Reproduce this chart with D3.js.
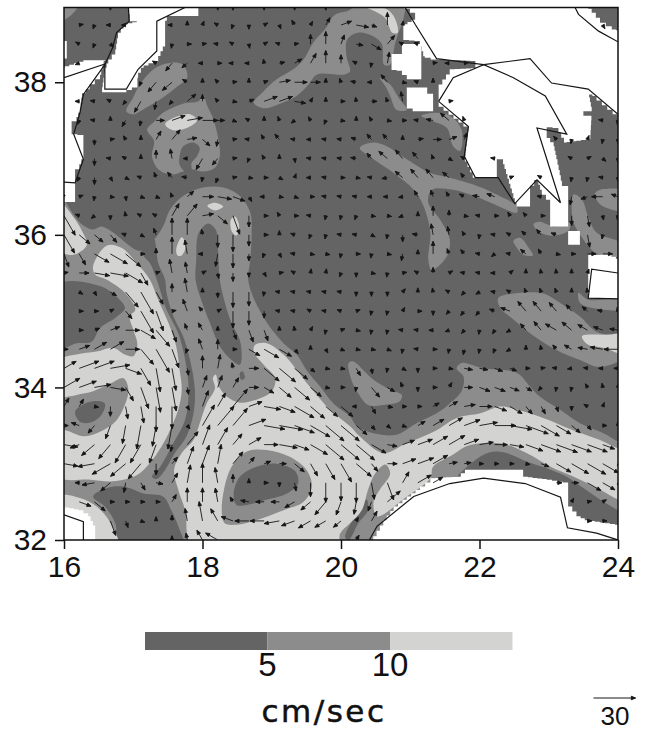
<!DOCTYPE html>
<html>
<head>
<meta charset="utf-8">
<script src="https://cdnjs.cloudflare.com/ajax/libs/d3/7.8.5/d3.min.js"></script>
<style>
body { margin: 0; background: #fff; }
svg text { font-family: "Liberation Sans", sans-serif; fill: #111; }
</style>
</head>
<body>
<script>
'use strict';
// tick labels, legend
const lonTicks = [16, 18, 20, 22, 24];
const latTicks = [32, 34, 36, 38];
const legendBreaks = [5, 10];
const legendRange = [0, 5, 10, 15];
const refVector = 30;

// arrow grid: 37 columns (2/9 deg apart) by 29 rows (1/4 deg apart), north to south
const arrowLats = [39, 38.75, 38.5, 38.25, 38, 37.75, 37.5, 37.25, 37, 36.75, 36.5, 36.25, 36, 35.75, 35.5, 35.25, 35, 34.75, 34.5, 34.25, 34, 33.75, 33.5, 33.25, 33, 32.75, 32.5, 32.25, 32];
const arrowLons = [16, 16.22, 16.44, 16.67, 16.89, 17.11, 17.33, 17.56, 17.78, 18, 18.22, 18.44, 18.67, 18.89, 19.11, 19.33, 19.56, 19.78, 20, 20.22, 20.44, 20.67, 20.89, 21.11, 21.33, 21.56, 21.78, 22, 22.22, 22.44, 22.67, 22.89, 23.11, 23.33, 23.56, 23.78, 24];

// speed in cm/sec, 0 where there is no arrow
const arrowSpeed = [
[0,0,0,3,0,0,0,0,0,0,3,3,0,3,0,3,0,3,0,0,0,0,0,0,0,0,0,0,0,0,0,0,0,0,0,0,0],
[0,3,3,3,3,0,0,3,3,3,3,3,3,3,3,4,3,6,8,9,4,9,3,0,0,0,0,0,0,0,0,0,0,0,0,3,0],
[0,3,3,3,0,0,0,3,3,3,3,3,3,3,3,3,7,9,7,5,8,8,3,3,0,0,0,0,0,0,0,0,0,0,0,0,0],
[0,3,0,0,0,0,3,7,5,3,3,3,3,3,4,6,8,9,6,3,3,8,0,0,3,3,3,0,0,0,0,0,0,0,0,0,0],
[0,0,0,0,0,3,9,9,4,3,3,3,3,3,8,9,7,3,3,4,3,7,3,3,3,0,0,0,0,0,0,0,0,0,0,0,0],
[0,3,3,3,3,9,6,3,8,5,3,3,4,10,10,8,3,3,3,3,4,3,7,0,0,3,0,0,0,0,0,0,0,0,0,0,0],
[0,3,3,3,5,4,6,10,11,11,5,3,3,3,3,3,3,3,3,3,3,3,3,3,5,8,3,0,0,0,0,0,0,0,0,3,3],
[0,0,4,3,3,3,7,9,7,7,5,3,3,4,5,3,3,3,3,4,5,5,3,4,6,6,5,0,0,0,0,0,3,3,3,3,3],
[0,0,5,3,3,3,6,7,3,9,6,3,3,3,3,3,3,3,3,4,5,8,8,6,3,3,3,0,3,0,0,0,0,3,3,3,3],
[0,3,5,3,3,3,4,5,4,3,4,3,3,3,3,3,3,3,3,3,3,4,7,8,8,6,4,0,0,3,0,3,0,3,3,3,3],
[3,3,3,3,3,3,3,3,6,8,10,9,4,3,3,3,3,3,3,3,3,3,3,5,5,4,4,5,6,0,0,3,0,6,5,8,5],
[16,3,3,3,3,3,3,10,11,8,9,14,8,3,3,3,3,3,3,3,3,3,3,3,7,4,3,3,3,3,3,3,0,7,8,3,3],
[15,10,8,7,3,3,5,12,12,4,9,12,8,3,3,3,3,3,3,3,3,3,5,4,8,6,3,3,3,3,4,5,4,0,9,3,0],
[10,9,12,14,14,3,4,12,10,3,9,10,5,3,3,3,3,3,3,3,3,3,5,3,9,4,4,3,3,3,5,4,3,3,6,7,0],
[3,7,11,13,14,10,3,10,8,3,4,6,3,3,3,3,3,3,3,3,3,3,3,3,4,3,3,3,3,3,3,3,3,3,3,0,0],
[0,3,3,5,14,18,10,6,10,3,4,11,10,3,3,3,3,3,3,3,3,3,3,3,3,3,3,3,3,3,3,3,3,3,3,0,0],
[0,3,3,3,7,18,15,3,9,4,3,12,10,5,3,3,3,3,3,3,3,3,3,3,3,3,4,4,4,7,9,9,8,6,5,4,3],
[0,3,4,7,10,12,15,9,5,6,3,7,9,8,3,3,3,3,3,3,3,3,3,3,3,3,3,3,3,3,6,8,9,9,8,7,6],
[3,8,10,11,10,14,19,14,3,8,7,3,9,12,10,4,3,3,3,3,3,3,3,3,3,3,4,3,3,3,3,3,4,6,7,9,10],
[10,15,15,14,12,14,17,16,5,9,10,4,7,14,15,12,4,3,3,6,4,3,3,3,3,3,6,6,6,5,3,3,3,3,3,3,3],
[13,13,12,11,11,16,18,17,5,9,9,8,7,8,11,14,10,3,3,3,9,6,4,3,3,4,6,8,8,7,5,3,3,3,3,3,3],
[7,6,3,7,9,12,18,16,3,12,11,16,10,12,12,16,13,11,11,3,6,4,3,3,5,7,8,9,9,10,7,6,4,3,3,3,0],
[3,6,7,10,13,17,15,17,3,17,18,16,13,15,17,15,16,17,17,10,4,3,3,6,9,11,12,13,15,16,17,15,12,8,4,3,3],
[10,7,12,13,15,15,14,5,12,15,14,10,10,10,13,11,14,17,17,17,12,7,9,11,12,13,11,10,9,10,13,15,16,15,15,9,3],
[10,0,12,15,14,14,8,6,13,14,14,11,6,5,5,9,10,13,15,14,7,7,10,12,12,6,5,3,3,3,3,6,12,14,15,13,3],
[6,3,9,9,7,6,5,8,13,14,11,6,3,3,3,6,10,14,13,14,12,13,9,11,8,0,0,0,0,0,0,0,4,5,11,10,3],
[0,9,10,3,3,3,3,6,10,10,10,4,6,6,6,8,9,12,10,9,7,12,0,0,0,0,0,0,0,0,0,0,0,3,3,3,0],
[0,0,0,11,5,3,3,4,9,14,10,9,10,10,11,10,10,9,7,3,8,0,0,0,0,0,0,0,0,0,0,0,0,0,3,3,0],
[0,0,0,0,0,0,0,3,5,8,10,0,0,0,0,0,0,0,0,4,0,0,0,0,0,0,0,0,0,0,0,0,0,0,0,0,0]
];
// direction the arrow points, in tens of degrees clockwise from north
const arrowDir = [
[0,0,0,18,0,0,0,0,0,0,18,18,0,18,0,18,0,18,0,0,0,0,0,0,0,0,0,0,0,0,0,0,0,0,0,0,0],
[0,8,20,27,27,0,0,27,0,2,30,20,18,6,16,33,3,3,7,10,11,0,1,0,0,0,0,0,0,0,0,0,0,0,0,15,0],
[0,30,20,13,0,0,0,19,9,8,28,30,17,6,29,8,0,0,2,10,12,4,30,29,0,0,0,0,0,0,0,0,0,0,0,0,0],
[0,25,0,0,0,0,30,22,23,27,9,27,27,35,8,6,3,0,0,30,19,1,0,0,8,27,8,0,0,0,0,0,0,0,0,0,0],
[0,0,0,0,0,20,22,23,30,0,32,8,0,7,8,9,9,0,34,28,27,32,10,29,0,0,0,0,0,0,0,0,0,0,0,0,0],
[0,27,28,30,22,21,19,22,5,0,32,10,7,7,7,10,3,0,9,35,9,34,35,0,0,8,0,0,0,0,0,0,0,0,0,0,0],
[0,20,28,0,21,19,9,7,8,9,9,11,30,0,34,23,33,20,10,0,33,10,9,28,28,31,34,0,0,0,0,0,0,0,0,28,19],
[0,0,18,8,33,0,3,4,8,13,19,8,28,33,32,28,27,28,28,29,32,32,0,8,9,7,2,0,0,0,0,0,32,19,2,19,18],
[0,0,18,28,30,0,0,35,27,21,22,8,20,33,0,17,28,28,28,28,32,31,32,32,34,12,30,0,28,0,0,0,0,30,6,13,18],
[0,21,18,15,12,29,34,32,28,19,20,8,10,9,12,2,27,28,9,10,28,26,31,32,32,31,32,0,0,7,0,30,0,19,19,28,18],
[32,7,19,10,17,11,11,34,5,9,10,11,15,27,10,11,9,28,28,28,27,27,26,33,34,33,30,28,29,0,0,28,0,19,25,27,29],
[15,29,23,18,35,30,30,3,4,8,13,16,18,9,33,9,28,19,19,20,10,10,25,0,0,0,10,28,9,33,32,9,0,18,17,17,19],
[15,13,13,14,29,12,34,0,0,35,18,18,18,9,0,29,20,19,28,28,12,19,18,28,35,35,33,19,28,30,31,32,29,0,17,19,0],
[16,15,12,12,13,9,0,0,35,27,19,18,18,20,15,28,10,10,19,9,19,10,19,0,0,34,32,28,23,28,31,33,10,9,9,9,0],
[8,9,10,10,12,15,7,35,35,6,17,18,18,15,8,30,1,1,20,18,10,19,8,30,0,6,28,28,27,5,0,35,35,0,2,0,0],
[0,12,15,12,14,15,15,0,35,0,18,18,18,19,28,28,28,28,28,18,18,18,4,0,35,30,22,24,28,30,34,34,34,0,35,0,0],
[0,9,9,6,14,15,16,8,34,32,6,18,18,18,28,28,30,28,29,7,19,19,3,9,18,22,22,22,29,29,32,32,32,32,31,28,35],
[0,9,7,7,9,12,14,16,34,33,0,16,16,16,0,35,3,19,7,10,19,19,28,28,27,25,22,19,21,24,32,32,30,31,30,29,28],
[9,7,6,6,9,14,15,16,20,34,0,9,12,12,12,14,0,15,11,10,10,11,19,28,9,19,19,19,20,24,0,35,32,30,28,28,27],
[6,7,7,8,11,15,17,17,17,0,1,35,9,13,13,13,13,10,10,15,17,19,12,18,9,10,10,10,11,11,9,8,28,26,28,27,27],
[6,7,8,10,15,16,17,17,17,2,2,3,9,12,13,13,13,10,9,19,14,12,34,18,9,3,9,11,11,11,12,22,19,19,33,35,1],
[3,3,10,18,17,17,18,18,15,2,3,4,7,10,11,12,13,13,13,27,15,10,9,9,6,6,8,9,11,12,14,15,16,18,30,2,0],
[9,29,22,20,19,19,19,19,14,3,4,4,7,10,10,11,12,13,13,13,14,13,11,6,6,6,7,8,9,10,11,12,12,13,14,9,0],
[10,25,23,22,21,21,20,19,4,2,3,4,6,9,10,11,12,13,13,13,12,10,7,7,6,6,7,8,9,10,11,11,11,11,11,11,9],
[10,0,26,24,23,22,18,4,2,2,1,4,4,7,9,13,15,15,15,13,14,9,7,7,6,8,8,9,9,9,10,11,12,12,12,12,12],
[28,27,26,23,19,15,10,3,1,0,35,0,0,9,18,17,18,18,18,18,17,16,3,6,6,0,0,0,0,0,0,0,9,9,12,12,12],
[0,11,13,9,9,9,9,3,0,0,35,33,28,27,27,24,23,22,20,19,20,5,0,0,0,0,0,0,0,0,0,0,0,3,8,6,0],
[0,0,0,16,16,11,0,0,35,35,33,29,27,27,26,25,24,24,23,3,3,0,0,0,0,0,0,0,0,0,0,0,0,0,9,9,0],
[0,0,0,0,0,0,0,0,35,33,30,0,0,0,0,0,0,0,0,3,0,0,0,0,0,0,0,0,0,0,0,0,0,0,0,0,0]
];

// speed zones traced as [lon, lat] rings
const zonesOver5 = [
    // south-west basin, the arch and the jet along the Libyan coast
    [[16,36.46],[16.09,36.33],[16.23,36.16],[16.42,36.07],[16.54,36.11],[16.71,36.03],[16.9,35.89],[17.1,35.79],[17.3,35.94],[17.43,36.11],[17.53,36.33],[17.72,36.51],[18.01,36.62],[18.3,36.62],[18.54,36.51],[18.69,36.29],[18.71,36.03],[18.69,35.68],[18.66,35.41],[18.73,35.19],[18.85,34.97],[19,34.76],[19.17,34.58],[19.36,34.43],[19.5,34.23],[19.7,34.01],[19.89,33.79],[20.13,33.62],[20.23,33.49],[20.47,33.4],[20.8,33.38],[21.09,33.53],[21.38,33.66],[21.57,33.79],[21.74,33.95],[21.77,34.14],[21.67,34.25],[21.74,34.32],[22.06,34.25],[22.54,34.19],[22.73,34.01],[22.87,33.88],[23.16,33.71],[23.45,33.53],[23.79,33.4],[24,33.29],[24.2,33.2],[24.2,32.3],[24,32.39],[23.74,32.53],[23.5,32.68],[23.26,32.83],[22.97,32.94],[22.68,33.03],[22.39,33.14],[22.15,33.15],[21.91,33.03],[21.77,32.92],[21.43,32.61],[20.42,31.9],[18,31.8],[15.8,31.8],[15.7,34],[15.8,36.6]],
    [[18.74,37.73],[18.88,37.88],[19.07,38.04],[19.31,38.17],[19.46,38.3],[19.6,38.52],[19.79,38.72],[19.89,38.87],[20.03,38.92],[20.09,38.93],[20.16,38.97],[20.23,39.05],[20.9,39.05],[20.9,38.82],[20.83,38.65],[20.78,38.5],[20.71,38.23],[20.62,38.23],[20.59,38.5],[20.47,38.6],[20.25,38.65],[20.09,38.56],[20.08,38.34],[20.13,38.14],[20.04,38.1],[19.94,38.1],[19.65,38.1],[19.53,37.97],[19.36,37.82],[19.12,37.72],[18.88,37.66]],
    [[16.9,37.62],[17,37.8],[17.07,37.93],[17.17,38.06],[17.34,38.2],[17.58,38.26],[17.72,38.23],[17.78,38.06],[17.63,37.94],[17.43,37.8],[17.19,37.67],[17,37.58]],
    [[17.2,37.38],[17.31,37.49],[17.43,37.6],[17.72,37.72],[17.94,37.75],[18.01,37.83],[18.07,37.69],[18.16,37.51],[18.23,37.25],[18.25,37.03],[18.18,36.88],[18.01,36.83],[17.84,36.86],[17.72,36.83],[17.55,36.79],[17.36,36.86],[17.27,37.03],[17.3,37.23]],
    [[20.11,34.32],[20.18,34.34],[20.32,34.23],[20.47,34.1],[20.71,33.97],[20.88,33.9],[20.85,33.82],[20.61,33.77],[20.39,33.77],[20.25,33.92],[20.15,34.1]],
    [[22.27,35.17],[22.49,35.23],[22.92,35.23],[23.16,35.11],[23.45,34.93],[23.69,34.73],[24.1,34.63],[24.1,34.41],[23.74,34.27],[23.45,34.36],[23.11,34.49],[22.73,34.71],[22.49,34.89],[22.3,35.04]],
    [[23.43,35.24],[23.57,35.15],[24.1,35.15],[24.1,35.03],[23.64,35.04],[23.45,35.11]],
    [[23.36,36.53],[23.48,36.46],[23.57,36.24],[23.69,36.03],[24.1,35.87],[24.1,35.73],[23.69,35.76],[23.5,35.94],[23.36,36.16],[23.33,36.37]],
    [[23.67,36.55],[23.79,36.6],[24.1,36.57],[24.1,36.32],[23.79,36.37],[23.69,36.46]],
    [[20.27,37.14],[20.47,37.21],[20.66,37.16],[20.95,36.99],[21.29,36.81],[21.57,36.75],[21.91,36.66],[22.2,36.55],[22.54,36.37],[22.54,36.29],[22.34,36.35],[22.06,36.46],[21.62,36.59],[21.31,36.59],[21.26,36.42],[21.43,36.2],[21.57,35.94],[21.53,35.72],[21.31,35.54],[21.26,35.68],[21.29,36.03],[21.19,36.38],[21.05,36.59],[20.76,36.81],[20.47,36.99]],
    [[22.78,36.14],[22.87,36.17],[23.07,36.11],[23.31,36.16],[23.28,36.05],[23.07,35.99],[22.87,36.03]],
    [[22.49,35.92],[22.59,35.96],[22.71,35.83],[22.77,35.73],[22.63,35.74],[22.54,35.83]],
    [[20.56,38.06],[20.71,37.97],[20.83,37.8],[20.95,37.64],[20.8,37.64],[20.71,37.82],[20.64,37.95]],
    [[21.16,37.56],[21.38,37.6],[21.57,37.56],[21.74,37.38],[21.72,37.1],[21.62,37.16],[21.53,37.4],[21.33,37.49]],
    [[15.9,39.1],[16.26,39.1],[16.09,38.87],[15.9,38.8]]
];
const zonesUnder5 = [
    [[17.12,35.81],[17.29,35.96],[17.36,35.63],[17.46,35.41],[17.48,35.24],[17.58,34.93],[17.72,34.67],[17.82,34.36],[17.89,33.97],[17.87,33.66],[17.77,33.36],[17.6,33.14],[17.46,32.92],[17.34,32.8],[17.27,32.83],[17.39,32.96],[17.58,33.27],[17.75,33.58],[17.8,33.97],[17.75,34.36],[17.65,34.71],[17.48,35.02],[17.34,35.41],[17.24,35.63],[17.17,35.7]],
    [[17.92,35.94],[17.96,36.05],[18.08,36.15],[18.19,36.07],[18.22,35.85],[18.25,35.41],[18.3,35.19],[18.4,34.89],[18.55,34.58],[18.54,34.3],[18.42,34.36],[18.25,34.54],[18.11,34.84],[17.98,35.15],[17.9,35.41],[17.91,35.68]],
    [[15.94,35.35],[16.52,35.33],[16.76,35.19],[16.88,35.04],[16.74,34.91],[16.52,34.78],[16.4,34.6],[16.18,34.58],[15.94,34.52]],
    [[16.42,32.57],[16.62,32.68],[16.86,32.7],[17.15,32.61],[17.43,32.57],[17.55,32.39],[17.65,32.18],[17.72,31.91],[16.81,31.91],[16.74,32.22],[16.59,32.44]],
    [[17.67,37.03],[17.72,37.16],[17.87,37.21],[17.96,37.14],[17.92,37.03],[17.84,36.94],[17.84,36.85],[17.75,36.83],[17.67,36.92]],
    [[20.37,32.53],[20.23,32.35],[20.06,32.04],[20.11,32],[20.25,32.22],[20.39,32.39]],
    [[18.54,34.19],[18.58,34.21],[18.61,34.12],[18.56,34.1]]
];
const zonesOver10 = [
    [[16.45,35.48],[16.42,35.59],[16.62,35.86],[16.83,35.83],[17.05,35.63],[17.24,35.41],[17.36,35.15],[17.51,34.84],[17.62,34.54],[17.67,34.23],[17.7,33.97],[17.65,33.71],[17.53,33.44],[17.41,33.23],[17.24,33.01],[17.05,32.85],[16.71,32.77],[16.38,32.79],[15.9,32.84],[15.85,33.6],[15.9,34.34],[16.18,34.43],[16.47,34.47],[16.71,34.52],[16.88,34.43],[17,34.41],[17.06,34.56],[17,34.76],[16.95,34.93],[17.03,35.02],[16.88,35.24],[16.62,35.41]],
    [[18.76,34.56],[18.93,34.58],[19.17,34.43],[19.36,34.23],[19.55,34.01],[19.84,33.71],[20.13,33.49],[20.27,33.36],[20.61,33.14],[20.95,33.27],[21.38,33.44],[21.67,33.6],[22.01,33.66],[22.3,33.75],[22.54,33.71],[22.92,33.6],[23.35,33.44],[23.74,33.31],[24,33.2],[24.2,33.15],[24.2,32.45],[24,32.53],[23.74,32.66],[23.36,32.83],[23.07,32.94],[22.68,33.14],[22.39,33.25],[22.11,33.27],[21.81,33.23],[21.62,33.12],[21.33,32.96],[21.29,32.81],[20.95,32.57],[20.52,32.31],[20.47,32.5],[20.56,32.66],[20.71,32.87],[20.64,32.99],[20.49,32.87],[20.39,32.66],[20.3,32.39],[20.13,32.22],[19.99,32.09],[19.94,31.9],[17.87,31.9],[17.75,32.39],[17.65,32.66],[17.59,32.92],[17.7,33.14],[17.87,33.31],[17.96,33.53],[18.06,33.79],[18.18,33.99],[18.15,34.12],[18.19,34.17],[18.24,34.01],[18.35,33.88],[18.54,33.8],[18.78,33.84],[19,33.95],[19.05,34.12],[18.88,34.3],[18.74,34.47]],
    [[15.9,36.46],[16.13,36.24],[16.26,36.05],[16.33,35.87],[16.18,35.75],[16.06,35.74],[15.9,35.83]],
    [[15.9,32.57],[16.23,32.55],[16.47,32.44],[16.66,32.24],[16.78,31.9],[15.9,31.9]],
    [[20.37,38.98],[20.61,38.98],[20.76,38.87],[20.82,38.65],[20.74,38.65],[20.64,38.84],[20.49,38.93]],
    [[17.46,37.45],[17.63,37.55],[17.82,37.58],[17.92,37.5],[17.77,37.4],[17.58,37.37]],
    [[18.07,36.38],[18.18,36.42],[18.3,36.37],[18.18,36.32]],
    [[18.41,36.2],[18.47,36.24],[18.53,36.11],[18.49,35.99],[18.42,36.05]],
    [[17.62,35.81],[17.7,35.97],[17.76,35.87],[17.7,35.73],[17.64,35.73]],
    [[23.48,34.67],[23.84,34.69],[24.1,34.69],[24.1,34.44],[23.79,34.52],[23.57,34.56]]
];
// the quiet centres of the eddies
const eddyOver5 = [
    [[15.9,33.82],[16.18,33.9],[16.42,33.95],[16.69,34.06],[16.86,34.12],[16.93,33.97],[16.86,33.73],[16.74,33.55],[16.52,33.42],[16.28,33.36],[16.09,33.42],[15.9,33.49]],
    [[18.28,32.35],[18.3,32.61],[18.42,32.96],[18.64,33.16],[18.93,33.18],[19.26,33.09],[19.5,32.92],[19.58,32.7],[19.46,32.5],[19.17,32.39],[18.78,32.26],[18.49,32.2],[18.32,32.22]]
];
const eddyUnder5 = [
    [[16.16,33.68],[16.26,33.77],[16.42,33.82],[16.59,33.79],[16.54,33.64],[16.38,33.54],[16.23,33.55]],
    [[18.45,32.61],[18.54,32.83],[18.78,32.96],[19.07,33],[19.34,32.9],[19.38,32.74],[19.22,32.61],[18.93,32.53],[18.64,32.46],[18.49,32.46]]
];

// land mask, [lon, lat] rings
const landMask = [
    [[16.93,39.02],[17.94,39.02],[17.94,38.87],[17.51,38.87],[17.46,38.74],[17.46,38.47],[17.36,38.28],[17.15,38.19],[17.07,38.06],[17.06,37.93],[16.9,37.87],[16.54,37.87],[16.57,38.06],[16.59,38.19],[16.64,38.3],[16.74,38.43],[16.78,38.65],[16.86,38.76],[17.05,38.8],[16.95,38.89]],
    [[15.94,38.19],[16.28,38.29],[16.59,38.28],[16.52,38.04],[16.37,37.91],[16.26,37.8],[16.23,37.6],[16.18,37.49],[16.11,37.47],[16.11,37.32],[16.28,37.3],[16.28,36.99],[16.22,36.86],[16.16,36.85],[16.16,36.43],[16.04,36.43],[15.94,36.46]],
    [[15.94,38.54],[16.04,38.54],[16.04,38.31],[15.94,38.31]],
    [[20.92,39.02],[23.52,39.02],[23.62,38.91],[23.74,38.78],[23.91,38.69],[24.1,38.67],[24.1,37.56],[24,37.58],[23.69,37.82],[23.57,37.86],[23.62,37.62],[23.5,37.62],[23.5,37.56],[23.62,37.56],[23.6,37.25],[23.26,37.21],[23.14,37.4],[22.97,37.42],[22.97,37.27],[23.07,37.16],[23.11,36.99],[23.19,36.64],[23.28,36.62],[23.28,36.11],[23.02,36.11],[23.02,36.46],[22.9,36.59],[22.85,36.72],[22.73,36.57],[22.73,36.37],[22.56,36.37],[22.51,36.48],[22.34,36.99],[22.25,36.99],[22.25,36.75],[21.94,36.75],[21.79,37.03],[21.84,37.42],[21.41,37.73],[21.41,37.97],[21.57,38.17],[21.96,38.19],[21.94,38.28],[21.38,38.3],[21.21,38.34],[21.14,38.54],[20.9,38.56],[20.9,38.76],[21.02,38.82],[21.07,38.91]],
    [[20.73,38.37],[20.88,38.37],[20.88,38.5],[21.16,38.5],[21.16,38.04],[21.02,38.04],[20.88,38.15],[20.73,38.17]],
    [[20.95,37.93],[21.16,37.93],[21.33,37.77],[21.33,37.62],[21.12,37.62],[20.95,37.69]],
    [[23.28,36.05],[23.45,36.05],[23.45,35.87],[23.28,35.87]],
    [[23.57,35.74],[23.84,35.74],[24.1,35.63],[24.1,35.17],[23.57,35.17]],
    [[20.37,31.91],[20.61,32.26],[20.76,32.44],[20.95,32.57],[21.14,32.7],[21.29,32.81],[21.67,32.83],[21.79,32.92],[22.61,32.92],[22.63,32.83],[22.97,32.79],[23.28,32.74],[23.28,32.44],[23.4,32.31],[23.52,32.26],[24.1,32.18],[24.1,31.91]],
    [[15.94,32.44],[16.21,32.39],[16.35,32.31],[16.45,32.13],[16.45,31.91],[15.94,31.91]]
];

// coastline
const coastLines = [
    [[16.93,38.99],[16.94,38.8],[16.76,38.65],[16.7,38.45],[16.59,38.23],[16.28,37.84],[16.23,37.6],[16.14,37.32],[16.28,36.99],[16.16,36.68],[16,36.69]],
    [[16,38.06],[16.59,38.24]],
    [[17.77,38.99],[17.34,38.8],[17.34,38.41],[17.07,38.17],[16.9,37.91],[16.59,37.91],[16.59,38.23]],
    [[20.92,38.99],[21.07,38.76],[21.38,38.31],[22.06,38.23],[22.73,38.31],[23.04,37.99],[23.57,37.91],[24,37.58]],
    [[21.41,37.75],[21.62,38.06],[22.06,38.23],[22.49,38.06],[22.95,37.82],[23.26,37.32],[22.83,37.4],[23.17,36.42],[22.83,36.72],[22.51,36.41],[22.27,36.75],[21.94,36.75],[21.78,37.03],[21.84,37.42],[21.41,37.75]],
    [[23.38,38.98],[23.43,38.89],[23.72,38.67],[24,38.53]],
    [[24,35.5],[23.62,35.55],[23.57,35.17],[24,35.16]],
    [[20.41,32],[20.52,32.18],[21.05,32.57],[21.57,32.74],[22.06,32.81],[22.66,32.74],[23.17,32.56],[23.27,32.16],[23.69,32.09],[24,32]],
    [[16,32.33],[16.28,32.24],[16.28,32]]
];

const colors = { dark: '#646464', mid: '#8c8c8c', light: '#d3d3d1', ink: '#161616' };

(function() {
    let scales = { left: 64, right: 618, top: 7.5, bottom: 540 };
    let svgContainer = d3.select('body').append('svg')
                        .attr('width', 646)
                        .attr('height', 730);

    let x_scale = d3.scaleLinear().domain([16, 24]).range([scales.left, scales.right]);
    let y_scale = d3.scaleLinear().domain([32, 38.98]).range([scales.bottom, scales.top]);
    let speedScale = d3.scaleLinear().domain([0, refVector]).range([0, 42]);

    svgContainer.append('clipPath').attr('id', 'plot-clip')
        .append('rect')
        .attr('x', scales.left).attr('y', scales.top)
        .attr('width', scales.right - scales.left)
        .attr('height', scales.bottom - scales.top);

    let plot = svgContainer.append('g').attr('clip-path', 'url(#plot-clip)');

    plot.append('rect')
        .attr('x', scales.left).attr('y', scales.top)
        .attr('width', scales.right - scales.left)
        .attr('height', scales.bottom - scales.top)
        .attr('fill', colors.dark);

    let smooth = d3.line()
                    .x((d) => x_scale(d[0]))
                    .y((d) => y_scale(d[1]))
                    .curve(d3.curveCatmullRomClosed.alpha(0.5));
    let plain = d3.line()
                    .x((d) => x_scale(d[0]))
                    .y((d) => y_scale(d[1]));

    function drawZones(rings, fill) {
        plot.append('g').selectAll('path')
            .data(rings)
            .enter()
            .append('path')
            .attr('d', smooth)
            .attr('fill', fill);
    }
    drawZones(zonesOver5, colors.mid);
    drawZones(zonesUnder5, colors.dark);
    drawZones(zonesOver10, colors.light);
    drawZones(eddyOver5, colors.mid);
    drawZones(eddyUnder5, colors.dark);

    // the land mask comes from a coarse grid, so slanted edges are drawn as steps
    function stairPath(ring) {
        let pts = ring.map((d) => [x_scale(d[0]), y_scale(d[1])]);
        let path = 'M' + pts[0];
        pts.forEach((p, i) => {
            let q = pts[(i + 1) % pts.length];
            let dx = q[0] - p[0];
            let dy = q[1] - p[1];
            let n = (Math.abs(dx) < 1 || Math.abs(dy) < 1) ? 1 : Math.max(1, Math.round(Math.max(Math.abs(dx), Math.abs(dy)) / 5));
            for (let k = 1; k <= n; k++) {
                path += 'L' + (p[0] + dx * k / n) + ',' + (p[1] + dy * (k - 1) / n);
                path += 'L' + (p[0] + dx * k / n) + ',' + (p[1] + dy * k / n);
            }
        });
        return path + 'Z';
    }
    plot.append('g').selectAll('path')
        .data(landMask)
        .enter()
        .append('path')
        .attr('d', stairPath)
        .attr('fill', '#fff');

    plot.append('g').selectAll('path')
        .data(coastLines)
        .enter()
        .append('path')
        .attr('d', plain)
        .attr('fill', 'none')
        .attr('stroke', colors.ink)
        .attr('stroke-width', 1.2);

    // stem plus a small solid head
    function arrowPath(x0, y0, len, angle) {
        let x1 = x0 + len * Math.sin(angle);
        let y1 = y0 - len * Math.cos(angle);
        let barb = 4.5;
        let spread = 0.4;
        let b1 = [x1 - barb * Math.sin(angle - spread), y1 + barb * Math.cos(angle - spread)];
        let b2 = [x1 - barb * Math.sin(angle + spread), y1 + barb * Math.cos(angle + spread)];
        return 'M' + x0 + ',' + y0 + 'L' + x1 + ',' + y1 + 'M' + b1 + 'L' + x1 + ',' + y1 + 'L' + b2 + 'Z';
    }

    let arrows = [];
    arrowLats.forEach((lat, r) => {
        arrowLons.forEach((lon, c) => {
            if (arrowSpeed[r][c] > 0) {
                arrows.push({ lon: lon, lat: lat, speed: arrowSpeed[r][c], dir: arrowDir[r][c] * 10 });
            }
        });
    });
    plot.append('g').selectAll('path')
        .data(arrows)
        .enter()
        .append('path')
        .attr('d', (d) => arrowPath(x_scale(d.lon), y_scale(d.lat), speedScale(d.speed), d.dir * Math.PI / 180))
        .attr('fill', colors.ink)
        .attr('stroke', colors.ink)
        .attr('stroke-width', 0.9);

    // frame and axes
    svgContainer.append('rect')
        .attr('x', scales.left).attr('y', scales.top)
        .attr('width', scales.right - scales.left)
        .attr('height', scales.bottom - scales.top)
        .attr('fill', 'none')
        .attr('stroke', '#111')
        .attr('stroke-width', 1.5);

    let x_plot = d3.axisBottom(x_scale).tickValues(lonTicks).tickSize(9).tickPadding(3).tickFormat(d3.format('d'));
    let x_axis = svgContainer.append('g')
        .attr('transform', 'translate(0,' + scales.bottom + ')')
        .call(x_plot);
    let y_plot = d3.axisLeft(y_scale).tickValues(latTicks).tickSize(9).tickPadding(8).tickFormat(d3.format('d'));
    let y_axis = svgContainer.append('g')
        .attr('transform', 'translate(' + scales.left + ',0)')
        .call(y_plot);
    [x_axis, y_axis].forEach((axis) => {
        axis.select('.domain').remove();
        axis.selectAll('.tick line').attr('stroke', '#111').attr('stroke-width', 1.5);
        axis.selectAll('text').style('font-size', '30px').style('font-family', '"Liberation Sans", sans-serif').attr('fill', '#111');
    });
    x_axis.selectAll('text').attr('dy', '0.82em');

    // colour key
    let keyScale = d3.scaleLinear().domain([0, 15]).range([145, 512.5]);
    let keyColors = [colors.dark, colors.mid, colors.light];
    svgContainer.append('g').selectAll('rect')
        .data(d3.pairs(legendRange))
        .enter()
        .append('rect')
        .attr('x', (d) => keyScale(d[0]))
        .attr('y', 632)
        .attr('width', (d) => keyScale(d[1]) - keyScale(d[0]))
        .attr('height', 18)
        .attr('fill', (d, i) => keyColors[i]);
    svgContainer.append('g').selectAll('text')
        .data(legendBreaks)
        .enter()
        .append('text')
        .attr('x', (d) => keyScale(d))
        .attr('y', 676)
        .attr('text-anchor', 'middle')
        .style('font-size', '33px')
        .text((d) => d);
    svgContainer.append('text')
        .attr('x', 324)
        .attr('y', 722)
        .attr('text-anchor', 'middle')
        .style('font-family', '"DejaVu Sans", sans-serif')
        .style('font-size', '31px')
        .style('letter-spacing', '2.5px')
        .style('stroke', '#111')
        .style('stroke-width', 0.5)
        .text('cm/sec');

    // reference vector
    svgContainer.append('path')
        .attr('d', arrowPath(593.5, 698, speedScale(refVector), Math.PI / 2))
        .attr('fill', colors.ink)
        .attr('stroke', colors.ink)
        .attr('stroke-width', 1);
    svgContainer.append('text')
        .attr('x', 615)
        .attr('y', 725)
        .attr('text-anchor', 'middle')
        .style('font-size', '26px')
        .text(refVector);
})();
</script>
</body>
</html>
